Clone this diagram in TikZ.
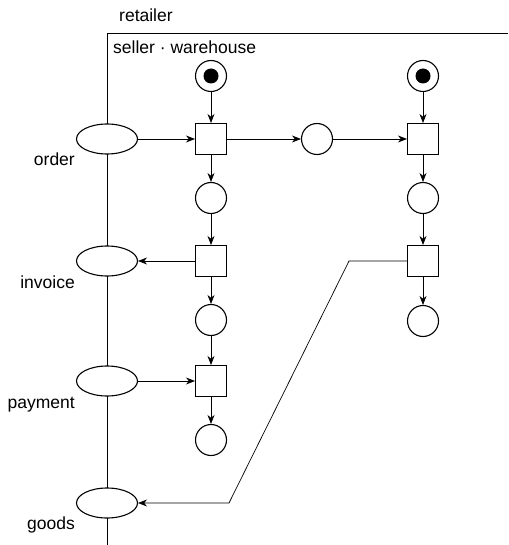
\documentclass[tikz,border=0pt]{standalone}
\usepackage{fontspec}
\setmainfont{Liberation Sans}
\usetikzlibrary{arrows.meta,shapes.geometric}
\begin{document}
\begin{tikzpicture}[x=1pt,y=-1pt,
  lbl/.style={font=\fontsize{17.5}{20}\selectfont, inner sep=0pt},
  place/.style={draw, circle, minimum size=31pt, inner sep=0pt, line width=1.1pt},
  trans/.style={draw, rectangle, minimum size=31pt, inner sep=0pt, line width=1.1pt},
  msg/.style={draw, ellipse, minimum width=61pt, minimum height=30pt, inner sep=0pt, line width=1.1pt, fill=white},
  tok/.style={fill=black, circle, minimum size=15pt, inner sep=0pt},
  arc/.style={-{Stealth[length=9pt,width=7pt]}, line width=0.7pt},
  edge/.style={line width=0.7pt}]
\useasboundingbox (0,0) rectangle (508,545);

% interface line of the retailer and the frame of seller . warehouse
\coordinate (ltop) at (107,33);
\coordinate (lbot) at (107,545);
\coordinate (rtop) at (508,33);
\draw[edge] (lbot) -- (ltop) -- (rtop);
\node[lbl, anchor=base west] (retailer) at (119,22) {retailer};
\node[lbl, anchor=base west] (seller) at (113,54) {seller · warehouse};

% message places on the interface
\node[msg] (order) at (107,139) {};
\node[msg] (invoice) at (107,261) {};
\node[msg] (payment) at (107,381) {};
\node[msg] (goods) at (107,503) {};
\node[lbl, anchor=base east] (lorder) at (75,166) {order};
\node[lbl, anchor=base east] (linvoice) at (75,288) {invoice};
\node[lbl, anchor=base east] (lpayment) at (75,408) {payment};
\node[lbl, anchor=base east] (lgoods) at (75,529) {goods};

% seller
\node[place] (s0) at (211,76) {};
\node[tok] (s0t) at (s0) {};
\node[trans] (s1) at (211,139) {};
\node[place] (s2) at (211,198) {};
\node[trans] (s3) at (211,261) {};
\node[place] (s4) at (211,320) {};
\node[trans] (s5) at (211,381) {};
\node[place] (s6) at (211,440) {};

% internal place between seller and warehouse
\node[place] (m) at (317,139) {};

% warehouse
\node[place] (w0) at (423,76) {};
\node[tok] (w0t) at (w0) {};
\node[trans] (w1) at (423,139) {};
\node[place] (w2) at (423,198) {};
\node[trans] (w3) at (423,261) {};
\node[place] (w4) at (423,321) {};

% arcs
\draw[arc] (s0) -- (s1);
\draw[arc] (s1) -- (s2);
\draw[arc] (s2) -- (s3);
\draw[arc] (s3) -- (s4);
\draw[arc] (s4) -- (s5);
\draw[arc] (s5) -- (s6);
\draw[arc] (order) -- (s1);
\draw[arc] (s3) -- (invoice);
\draw[arc] (payment) -- (s5);
\draw[arc] (s1) -- (m);
\draw[arc] (m) -- (w1);
\draw[arc] (w0) -- (w1);
\draw[arc] (w1) -- (w2);
\draw[arc] (w2) -- (w3);
\draw[arc] (w3) -- (w4);
\coordinate (k1) at (349,261);
\coordinate (k2) at (229,503);
\draw[arc] (w3.west) -- (k1) -- (k2) -- (goods.east);
\end{tikzpicture}
\end{document}
